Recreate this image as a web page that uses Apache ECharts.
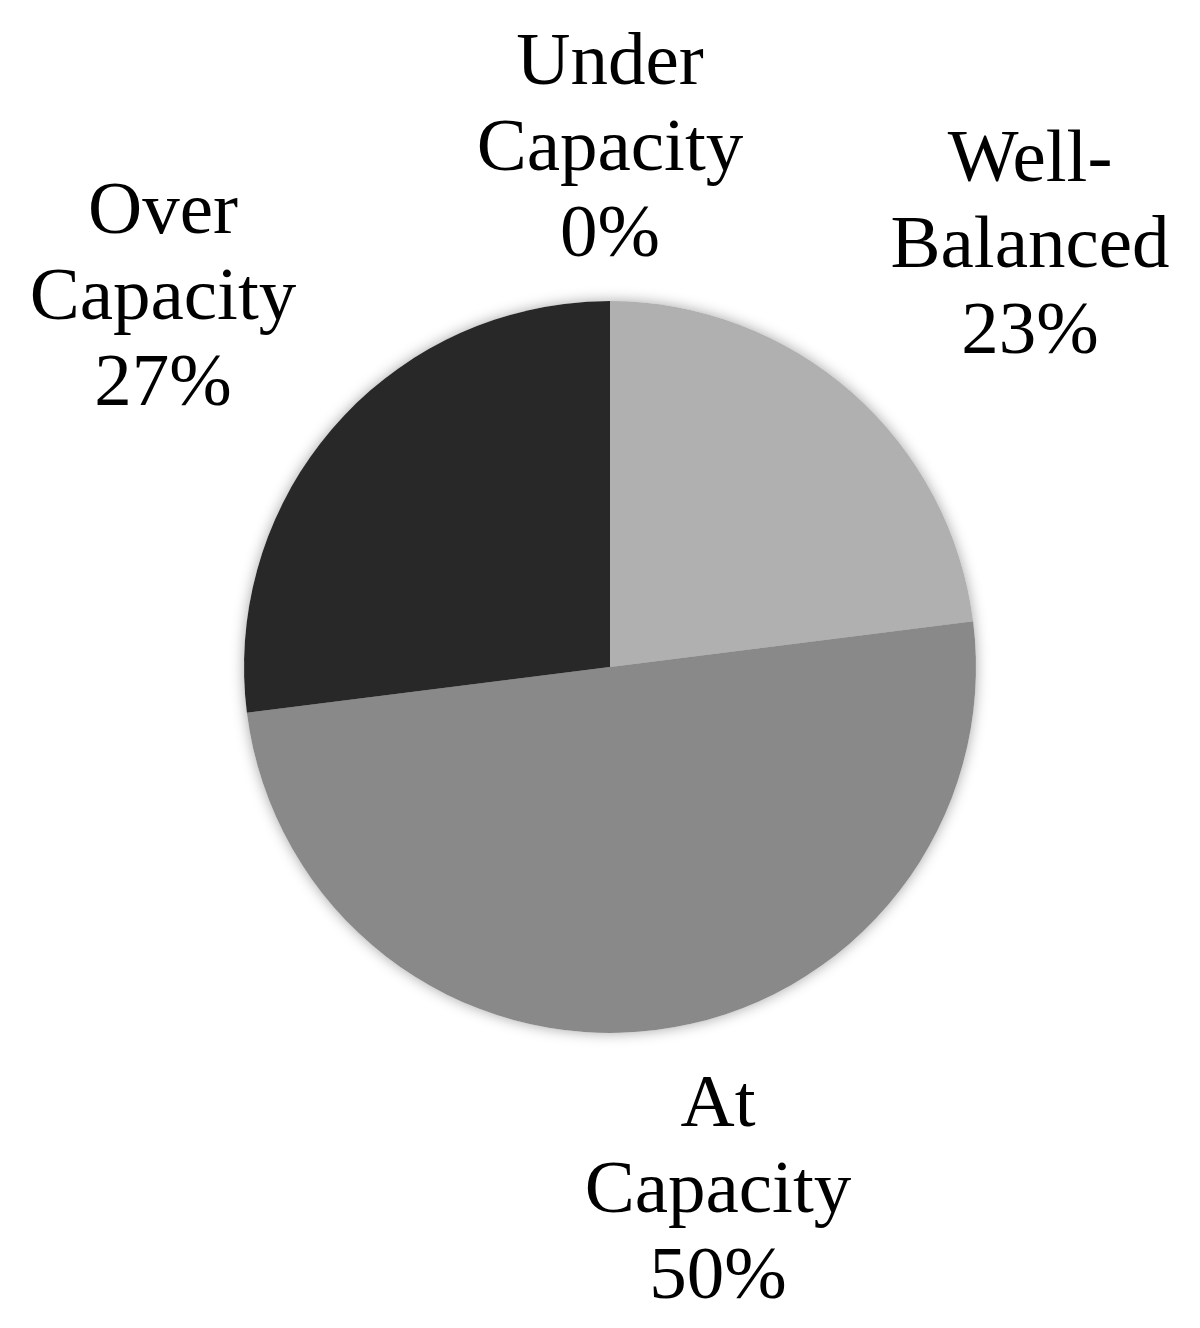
<!DOCTYPE html>
<html>
<head>
<meta charset="utf-8">
<script src="https://cdn.jsdelivr.net/npm/echarts@6/dist/echarts.min.js"></script>
<style>html,body{margin:0;padding:0;background:#fff}#c{width:1200px;height:1328px}</style>
</head>
<body>
<div id="c"></div>
<script>
const categories = ['Under Capacity', 'Well-Balanced', 'At Capacity', 'Over Capacity'];
const shares = [0, 23, 50, 27];
const sliceColors = ['#ffffff', '#b0b0b0', '#898989', '#282828'];
const labelCenters = [[610, 150], [1030, 247], [718, 1192], [163, 299]];

const pieData = categories.map((c, i) => ({ name: c, value: shares[i], itemStyle: { color: sliceColors[i] } }));

const chart = echarts.init(document.getElementById('c'), null, { renderer: 'canvas' });
chart.setOption({
  backgroundColor: '#ffffff',
  animation: false,
  series: [
    {
      type: 'pie',
      silent: true,
      center: [610, 667],
      radius: 366,
      startAngle: 90,
      clockwise: true,
      data: categories.map((c, i) => ({ name: c, value: shares[i] })),
      itemStyle: { color: '#ffffff', shadowBlur: 14, shadowColor: 'rgba(0,0,0,0.35)', borderWidth: 0 },
      label: { show: false },
      labelLine: { show: false },
      emphasis: { disabled: true }
    },
    {
      type: 'pie',
      center: [610, 667],
      radius: 366,
      startAngle: 90,
      clockwise: true,
      avoidLabelOverlap: false,
      data: pieData,
      itemStyle: { borderWidth: 0 },
      label: {
        show: true,
        position: 'outside',
        overflow: 'none',
        fontFamily: '"Liberation Serif", "Times New Roman", serif',
        fontSize: 75,
        lineHeight: 86,
        color: '#000000',
        formatter: p => p.name.replace('-', '-\n').replace(' ', '\n') + '\n' + p.value + '%'
      },
      labelLine: { show: false },
      labelLayout: params => {
        const p = labelCenters[params.dataIndex];
        return { x: p[0], y: p[1], align: 'center', verticalAlign: 'middle', width: 400 };
      },
      emphasis: { disabled: true }
    }
  ]
});
</script>
</body>
</html>
